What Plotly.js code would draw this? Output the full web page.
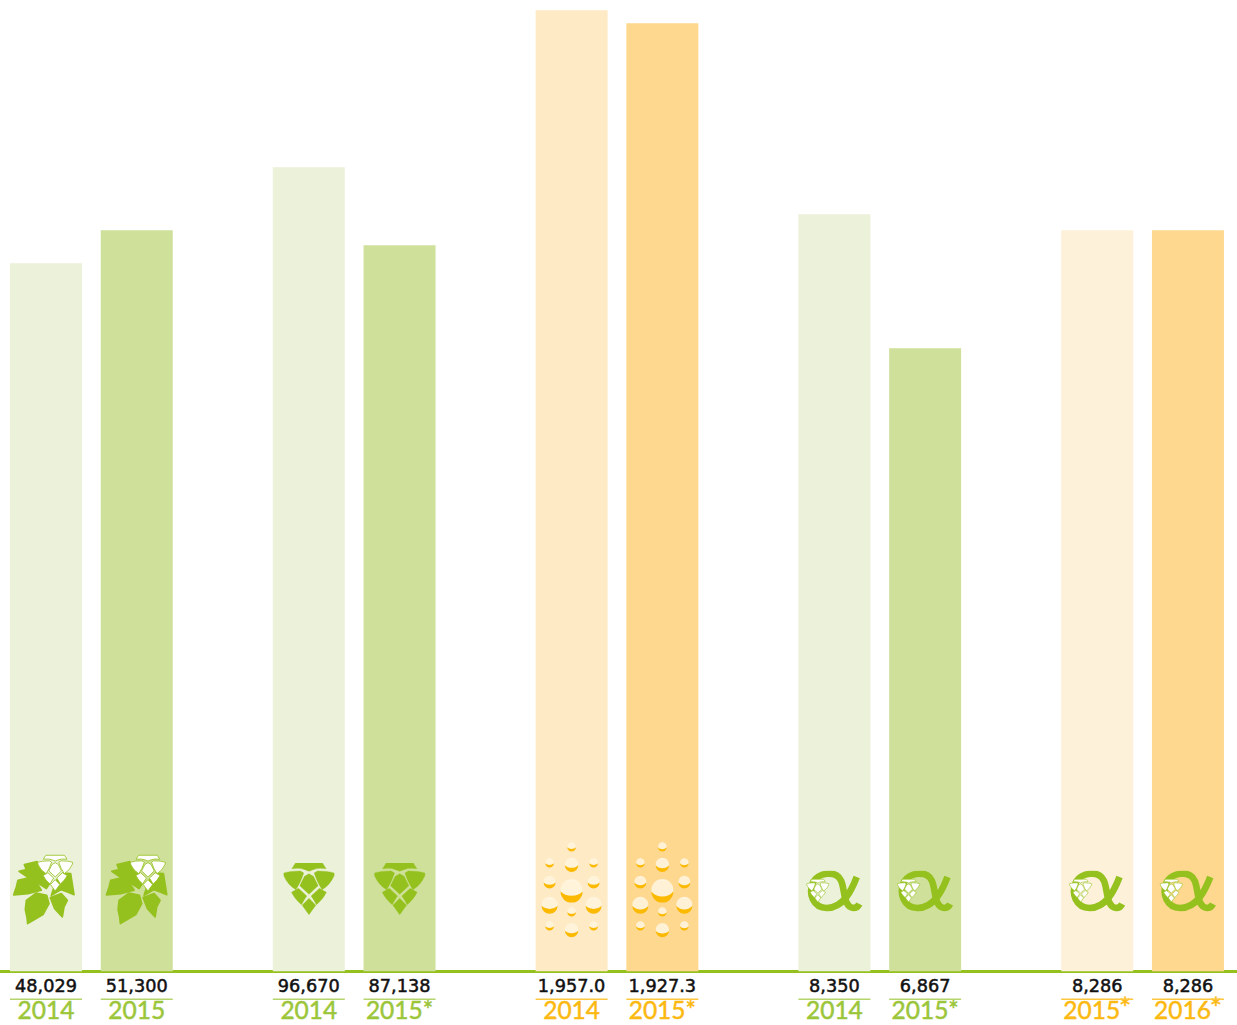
<!DOCTYPE html>
<html><head><meta charset="utf-8">
<script src="https://cdn.plot.ly/plotly-3.0.1.min.js"></script>
<style>html,body{margin:0;padding:0;background:#fff;overflow:hidden}#c{width:1237px;height:1025px}</style>
</head><body><div id="c"></div>
<script>
// ---- data ----
const groups      = [0,0,1,1,2,2,3,3,4,4];
const slots       = [0,1,0,1,0,1,0,1,0,1];
const barHeights  = [708,741,804,726,961,948,757,623,741,741];
const valueLabels = ['48,029','51,300','96,670','87,138','1,957.0','1,927.3','8,350','6,867','8,286','8,286'];
const yearLabels  = ['2014','2015','2014','2015*','2014','2015*','2014','2015*','2015','2016'];
const raisedStar  = [false,false,false,false,false,false,false,false,true,true];
const barColors   = ['#ecf1da','#cfe09a','#ecf1da','#cfe09a','#feeac4','#fdd88e','#ecf1da','#cfe09a','#fef1d9','#fdd88e'];
const yearColors  = ['#9cc63a','#9cc63a','#9cc63a','#9cc63a','#fbb912','#fbb912','#9cc63a','#9cc63a','#fbb912','#fbb912'];
const ruleColors  = ['#b5d46c','#b5d46c','#b5d46c','#b5d46c','#fcc63f','#fcc63f','#b5d46c','#b5d46c','#fcc63f','#fcc63f'];
const iconKinds   = ['leaf','leaf','cone','cone','drops','drops','alpha','alpha','alpha','alpha'];

// ---- layout helpers ----
const xs = groups.map((g,i)=>46 + 262.8*g + 90.75*slots[i]);
const GREEN = '#95c11f', ORANGE = '#fbb900';

function cone(fill, stroke, sw){
  const p = [
    'M37,0 L118,0 L129,17 Q104,14 90,20 L77.5,25 L65,20 Q51,14 26,17 Z',
    'M2,30 Q20,24 52,24 L62,30 Q52,60 38,80 Q14,66 2,38 Z',
    'M153,30 Q135,24 103,24 L93,30 Q103,60 117,80 Q141,66 153,38 Z',
    'M77.5,32 L91,40 Q100,58 105,68 L77.5,94 L50,68 Q55,58 64,40 Z',
    'M25,88 L46,76 L71,99 Q62,112 55,125 Q36,110 25,88 Z',
    'M130,88 L109,76 L84,99 Q93,112 100,125 Q119,110 130,88 Z',
    'M77.5,106 L98,127 L77.5,155 L57,127 Z'
  ];
  return p.map(d=>`<path d="${d}" fill="${fill}" stroke="${stroke}" stroke-width="${sw}" stroke-linejoin="round"/>`).join('');
}
const icons = {
  cone:{w:157,h:158,svg:cone(GREEN,GREEN,1),x:-77,y:-82},
  leaf:{w:200,h:215,svg:
    `<g transform="translate(-30,-40)" fill="${GREEN}" stroke="${GREEN}" stroke-width="5" stroke-linejoin="round">
     <path d="M58,93 L80,88 L74,73 L112,64 L130,90 L150,130 L140,145 L110,125 L90,115 Z"/>
     <path d="M42,164 L50,140 L55,120 L90,112 L110,125 L125,150 L85,160 L60,162 Z"/>
     <path d="M77,208 L80,180 L110,158 L141,165 L148,190 L130,223 L84,250 L82,232 Z"/>
     <path d="M152,172 L185,160 L203,180 L193,200 L188,230 L165,205 Z"/>
     <path d="M155,165 L170,120 L190,98 L213,100 L223,163 L205,156 L185,148 Z"/>
     </g>
     <g transform="translate(83,5) scale(0.69)">${cone('#ffffff',GREEN,3.5)}</g>`,
    x:-109,y:-110},
  alpha:{w:175,h:130,svg:
    `<path d="M153,19 C138,58 113,112 63,112 C23,112 6,70 23,33 C36,8 90,-4 106,30 C118,55 112,110 143,112 C153,112 158,106 161,100"
       fill="none" stroke="${GREEN}" stroke-width="20" stroke-linecap="butt"/>
     <g transform="translate(2,26) scale(0.44)">${cone('#ffffff',GREEN,4)}</g>`,
    x:-86,y:-59}
};
const dropList = [[0,-119,13],[-66,-71,13],[0,-66,20],[66,-71,13],[-66,-14,18],[0,11,33],[66,-14,18],[-66,55,24],[66,55,24],[0,76,13],[-66,118,13],[0,130,20],[66,118,13]];
function dropsSvg(strong){
  return dropList.map(([cx,cy,r])=>{
    const a = strong ? 0.85 : 0.75;
    return `<g transform="translate(${cx+100},${cy+160})">
      <circle r="${r}" fill="#fff6e2" fill-opacity="${a}"/>
      <path d="M${-r},${r*0.15} A${r},${r} 0 0 0 ${r},${r*0.15} A${r*1.2},${r*(strong?1:0.85)} 0 0 1 ${-r},${r*0.15} Z" fill="${ORANGE}"/>
      <path d="M${-r*0.62},${-r*0.55} A${r*0.8},${r*0.8} 0 0 1 ${r*0.62},${-r*0.55} A${r*0.9},${r*1.1} 0 0 0 ${-r*0.62},${-r*0.55} Z" fill="#ffffff"/>
    </g>`;}).join('');
}
icons.drops = {w:200,h:320,x:-100,y:-172,svg:dropsSvg(false)};
icons.dropsStrong = {w:200,h:320,x:-100,y:-172,svg:dropsSvg(true)};

const images = iconKinds.map((k,i)=>{
  const key = (k==='drops' && slots[i]===1) ? 'dropsStrong' : k;
  const ic = icons[key];
  const svg = `<svg xmlns="http://www.w3.org/2000/svg" width="${ic.w*2}" height="${ic.h*2}" viewBox="0 0 ${ic.w} ${ic.h}">${ic.svg}</svg>`;
  const leafNudge = (k==='leaf' && slots[i]===1) ? 2 : 0;
  return {
    source:'data:image/svg+xml;charset=utf-8,'+encodeURIComponent(svg),
    xref:'x',yref:'y',
    x:xs[i]+ic.x/3+leafNudge, y:81-ic.y/3,
    sizex:ic.w/3, sizey:ic.h/3,
    xanchor:'left',yanchor:'top',sizing:'stretch',layer:'above'
  };
});

const shapes = xs.map((x,i)=>({
  type:'line',xref:'x',yref:'y',x0:x-36,x1:x+36,y0:-28,y1:-28,
  line:{color:ruleColors[i],width:1.5}
}));

const starX = [], starY = [], starText = [], starColor = [];
raisedStar.forEach((r,i)=>{ if(r){ starX.push(xs[i]+28); starY.push(-40.5); starText.push('*'); starColor.push(yearColors[i]); }});

const traces = [
  {type:'bar',x:xs,y:barHeights,width:72,marker:{color:barColors,line:{width:0}},hoverinfo:'skip',showlegend:false},
  {type:'scatter',mode:'text',x:xs,y:xs.map(()=>-16),text:valueLabels,textposition:'middle center',
   textfont:{family:'DejaVu Sans',size:17.7,color:'#111111'},hoverinfo:'skip',showlegend:false},
  {type:'scatter',mode:'text',x:xs.map((x,i)=>raisedStar[i]?x-5.5:x),y:xs.map(()=>-41.5),text:yearLabels,textposition:'middle center',
   textfont:{family:'Lato',size:24.5,color:yearColors},hoverinfo:'skip',showlegend:false},
  {type:'scatter',mode:'text',x:starX,y:starY,text:starText,textposition:'middle center',
   textfont:{family:'Lato',size:29,color:starColor},hoverinfo:'skip',showlegend:false}
];
const layout = {
  width:1237,height:1025,margin:{l:0,r:0,t:0,b:0},
  paper_bgcolor:'#ffffff',plot_bgcolor:'#ffffff',
  xaxis:{range:[0,1237],visible:false,fixedrange:true},
  yaxis:{range:[-53.7,971.3],showgrid:false,showticklabels:false,ticks:'',showline:false,
         zeroline:true,zerolinecolor:GREEN,zerolinewidth:3,fixedrange:true},
  images,shapes,showlegend:false,hovermode:false
};
Plotly.newPlot('c',traces,layout,{displayModeBar:false,staticPlot:true}).then(()=>{
  document.querySelectorAll('.textpoint text').forEach(t=>{
    t.style.stroke=t.style.fill; t.style.strokeWidth='0.5px';
  });
});
</script></body></html>
